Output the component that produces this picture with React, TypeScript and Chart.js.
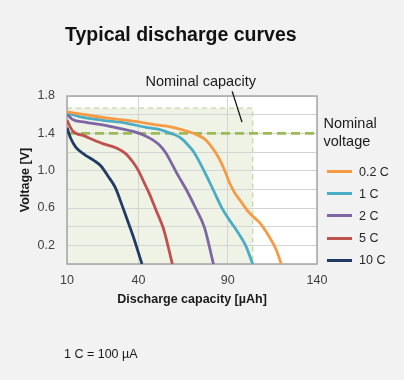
import React, { useEffect, useRef } from 'react';
import { Chart, registerables } from 'chart.js';

Chart.register(...registerables);

// ---- data ----
const seriesLabels = ['0.2 C', '1 C', '2 C', '5 C', '10 C'];
const seriesColors = ['#F59A45', '#4BACC6', '#7E65A3', '#BF514E', '#1F3B66'];

const cap02C = [0, 10, 24, 37, 50, 58, 66, 72, 77, 80, 83, 86, 89, 91, 94, 97, 102, 108, 113, 117, 120];
const volt02C = [1.63, 1.6, 1.56, 1.53, 1.49, 1.47, 1.43, 1.39, 1.34, 1.28, 1.2, 1.1, 0.97, 0.87, 0.76, 0.68, 0.55, 0.44, 0.3, 0.16, 0];

const cap1C = [0, 7, 20, 33, 45, 52, 58, 62, 65, 68, 71, 74, 78, 82, 87, 91, 95, 100, 104];
const volt1C = [1.62, 1.58, 1.54, 1.51, 1.46, 1.44, 1.4, 1.37, 1.33, 1.27, 1.2, 1.1, 0.95, 0.79, 0.59, 0.47, 0.36, 0.2, 0];

const cap2C = [0, 3, 10, 20, 30, 37, 43, 48, 52, 55, 58, 61, 64, 67, 72, 77, 82];
const volt2C = [1.61, 1.55, 1.52, 1.49, 1.45, 1.42, 1.38, 1.33, 1.27, 1.2, 1.1, 0.99, 0.89, 0.79, 0.6, 0.39, 0];

const cap5C = [0, 3, 10, 20, 28, 33, 37, 40, 43, 46, 50, 54, 59];
const volt5C = [1.54, 1.43, 1.37, 1.29, 1.24, 1.18, 1.09, 1.0, 0.88, 0.76, 0.57, 0.38, 0];

const cap10C = [0, 2, 5, 10, 15, 19, 23, 27, 31, 34, 37, 42];
const volt10C = [1.46, 1.35, 1.25, 1.17, 1.11, 1.05, 0.94, 0.82, 0.62, 0.46, 0.3, 0];

const seriesCaps = [cap02C, cap1C, cap2C, cap5C, cap10C];
const seriesVolts = [volt02C, volt1C, volt2C, volt5C, volt10C];

const xTickValues = [0, 40, 90, 140];
const xTickLabels = ['10', '40', '90', '140'];
const yGridStep = 0.2;
const yLabelledTicks = [0.2, 0.6, 1.0, 1.4, 1.8];

const nominalVoltage = 1.4;
const nominalCapacity = 104;
const nominalBoxTop = 1.67;
const pointerFrom = { x: 92.5, y: 1.85 };
const pointerTo = { x: 98, y: 1.52 };

const FONT = "'Liberation Sans', Arial, sans-serif";

const backgroundPlugin = {
  id: 'plotBackground',
  beforeDraw(chart: any) {
    const { ctx, chartArea: a, scales } = chart;
    const x = scales.x, y = scales.y;
    ctx.save();
    ctx.fillStyle = '#ffffff';
    ctx.fillRect(a.left, a.top, a.right - a.left, a.bottom - a.top);
    const bx1 = x.getPixelForValue(0);
    const bx2 = x.getPixelForValue(nominalCapacity);
    const by1 = y.getPixelForValue(nominalBoxTop);
    const by2 = y.getPixelForValue(0);
    ctx.fillStyle = '#EFF3E5';
    ctx.fillRect(bx1, by1, bx2 - bx1, by2 - by1);
    ctx.restore();
  },
  beforeDatasetsDraw(chart: any) {
    const { ctx, chartArea: a, scales } = chart;
    const x = scales.x, y = scales.y;
    const bx1 = x.getPixelForValue(0);
    const bx2 = x.getPixelForValue(nominalCapacity);
    const by1 = y.getPixelForValue(nominalBoxTop);
    const by2 = y.getPixelForValue(0);
    ctx.save();
    ctx.strokeStyle = '#C6D7A6';
    ctx.lineWidth = 1.3;
    ctx.setLineDash([5, 4]);
    ctx.beginPath();
    ctx.moveTo(bx1, by1);
    ctx.lineTo(bx2, by1);
    ctx.lineTo(bx2, by2);
    ctx.stroke();
    ctx.setLineDash([]);
    ctx.strokeStyle = '#A6A6A6';
    ctx.lineWidth = 1.5;
    ctx.strokeRect(a.left, a.top, a.right - a.left, a.bottom - a.top);
    ctx.restore();
  },
  afterDraw(chart: any) {
    const { ctx, scales } = chart;
    const x = scales.x, y = scales.y;
    ctx.save();
    ctx.strokeStyle = '#111111';
    ctx.lineWidth = 1.3;
    ctx.beginPath();
    ctx.moveTo(x.getPixelForValue(pointerFrom.x), y.getPixelForValue(pointerFrom.y));
    ctx.lineTo(x.getPixelForValue(pointerTo.x), y.getPixelForValue(pointerTo.y));
    ctx.stroke();
    ctx.restore();
  },
};

export default function App() {
  const canvasRef = useRef<HTMLCanvasElement>(null);

  useEffect(() => {
    const canvas = canvasRef.current;
    if (!canvas) return;
    const curveSets = seriesLabels.map((label, i) => ({
      label,
      data: seriesCaps[i].map((c, j) => ({ x: c, y: seriesVolts[i][j] })),
      borderColor: seriesColors[i],
      backgroundColor: seriesColors[i],
      borderWidth: 2.8,
      pointRadius: 0,
      cubicInterpolationMode: 'monotone' as const,
      fill: false,
    }));
    const nominalSet = {
      label: 'Nominal voltage',
      data: [
        { x: xTickValues[0], y: nominalVoltage },
        { x: xTickValues[xTickValues.length - 1], y: nominalVoltage },
      ],
      borderColor: '#9BBB59',
      borderWidth: 2.8,
      borderDash: [9, 5],
      pointRadius: 0,
      fill: false,
    };
    const chart = new Chart(canvas, {
      type: 'line',
      data: { datasets: [...curveSets, nominalSet] as any },
      plugins: [backgroundPlugin],
      options: {
        animation: false,
        responsive: false,
        maintainAspectRatio: false,
        devicePixelRatio: 1,
        layout: { padding: { left: 0, top: 96, right: 87, bottom: 66 } },
        plugins: { legend: { display: false }, tooltip: { enabled: false }, title: { display: false } },
        scales: {
          x: {
            type: 'linear',
            min: xTickValues[0],
            max: xTickValues[xTickValues.length - 1],
            afterBuildTicks: (scale: any) => {
              scale.ticks = xTickValues.map((v) => ({ value: v }));
            },
            afterFit: (scale: any) => {
              scale.height = 50;
            },
            ticks: {
              autoSkip: false,
              maxRotation: 0,
              padding: 9,
              color: '#404040',
              font: { family: FONT, size: 12.5 },
              callback: (value: any) => {
                const idx = xTickValues.indexOf(Number(value));
                return idx >= 0 ? xTickLabels[idx] : '';
              },
            },
            grid: { color: '#D4D4D4', lineWidth: 1, drawTicks: false },
            border: { display: false },
            title: {
              display: true,
              text: 'Discharge capacity [µAh]',
              color: '#1a1a1a',
              font: { family: FONT, size: 12.5, weight: 'bold' },
              padding: { top: 0, bottom: 7 },
            },
          },
          y: {
            type: 'linear',
            min: 0,
            max: 1.8,
            afterFit: (scale: any) => {
              scale.width = 67;
            },
            ticks: {
              stepSize: yGridStep,
              autoSkip: false,
              padding: 12,
              color: '#404040',
              font: { family: FONT, size: 12.5 },
              callback: (value: any) => {
                const v = Number(value);
                const hit = yLabelledTicks.find((t) => Math.abs(t - v) < 1e-6);
                return hit !== undefined ? hit.toFixed(1) : '';
              },
            },
            grid: { color: '#D4D4D4', lineWidth: 1, drawTicks: false },
            border: { display: false },
            title: {
              display: true,
              text: 'Voltage [V]',
              color: '#1a1a1a',
              font: { family: FONT, size: 12.5, weight: 'bold' },
              padding: { top: 18, bottom: 0 },
            },
          },
        },
      },
    });
    return () => chart.destroy();
  }, []);

  const legendCenters = [171.5, 193.5, 215.5, 238, 260];

  return (
    <div
      style={{
        position: 'fixed',
        left: 0,
        top: 0,
        width: 404,
        height: 380,
        background: '#F2F2F2',
        fontFamily: FONT,
        color: '#1a1a1a',
        overflow: 'hidden',
      }}
    >
      <canvas ref={canvasRef} width={404} height={380} style={{ position: 'absolute', left: 0, top: 0, width: 404, height: 380 }} />
      <div style={{ position: 'absolute', left: 65, top: 21, height: 26, lineHeight: '26px', fontSize: 19.5, fontWeight: 'bold', whiteSpace: 'nowrap', color: '#111' }}>
        Typical discharge curves
      </div>
      <div style={{ position: 'absolute', left: 145.5, top: 71, height: 20, lineHeight: '20px', fontSize: 14.5, whiteSpace: 'nowrap', color: '#1a1a1a' }}>
        Nominal capacity
      </div>
      <div style={{ position: 'absolute', left: 323.5, top: 114, lineHeight: '18px', fontSize: 14.5, whiteSpace: 'nowrap', color: '#1a1a1a' }}>
        Nominal<br />voltage
      </div>
      {seriesLabels.map((label, i) => (
        <React.Fragment key={label}>
          <div style={{ position: 'absolute', left: 327, top: legendCenters[i] - 1.5, width: 25, height: 3, background: seriesColors[i] }} />
          <div style={{ position: 'absolute', left: 359, top: legendCenters[i] - 9, height: 18, lineHeight: '18px', fontSize: 12.5, whiteSpace: 'nowrap', color: '#262626' }}>
            {label}
          </div>
        </React.Fragment>
      ))}
      <div style={{ position: 'absolute', left: 64, top: 345, height: 18, lineHeight: '18px', fontSize: 12.5, whiteSpace: 'nowrap', color: '#1a1a1a' }}>
        1 C = 100 µA
      </div>
    </div>
  );
}
